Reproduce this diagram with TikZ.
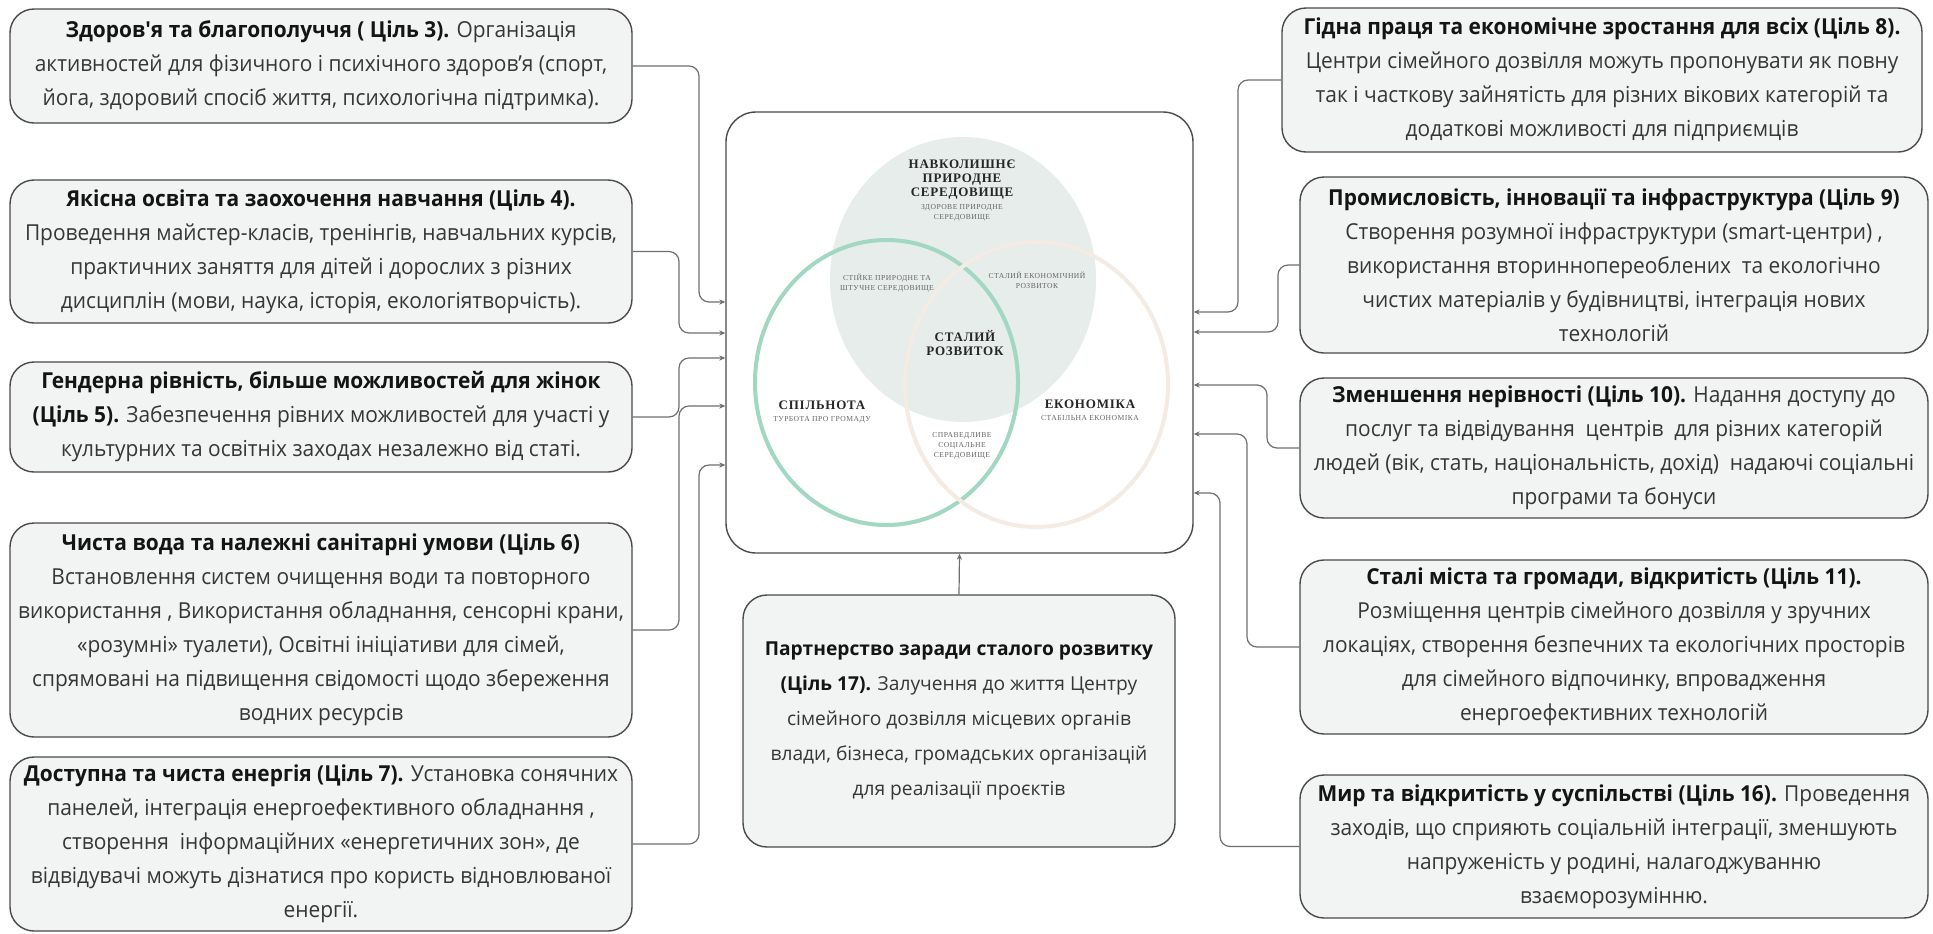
\documentclass[tikz,border=0pt]{standalone}
\usepackage{fontspec}
\setmainfont{Open Sans}
\newfontfamily\goalfont[FakeStretch=0.95]{Open Sans}
\newfontfamily\vennfont[LetterSpace=6]{Liberation Serif}
\usetikzlibrary{arrows.meta}

\definecolor{boxfill}{HTML}{F2F3F3}
\definecolor{boxline}{HTML}{4A4A4A}
\definecolor{linkgray}{HTML}{6E6E6E}
\definecolor{textgray}{HTML}{363636}
\definecolor{envfill}{HTML}{E6EDEA}
\definecolor{commgreen}{HTML}{A2D7C2}
\definecolor{econbeige}{HTML}{F3EBE4}

\newcommand\goaltitle[1]{\textbf{\color{black!92}#1}}

\tikzset{
  goal/.style={draw=boxline, fill=boxfill, line width=0.7pt, rounded corners=12pt,
    align=center, inner sep=0pt, text=textgray, font=\goalfont\fontsize{11}{17}\selectfont},
  partner/.style={goal, font=\fontsize{9.6}{17.5}\selectfont},
  link/.style={draw=linkgray, line width=0.6pt, rounded corners=5pt,
    -{Stealth[length=3pt,width=2.6pt]}},
  vennbig/.style={font=\vennfont\bfseries\fontsize{6.5}{7}\selectfont, align=center, text=black!85},
  vennsmall/.style={font=\vennfont\fontsize{3.8}{5}\selectfont, align=center, text=black!60}
}

\begin{document}
\begin{tikzpicture}[x=0.5pt, y=-0.5pt]
  \useasboundingbox (0,0) rectangle (1933,933);

  % centre frame with the Venn diagram
  \node[draw=boxline, fill=white, line width=0.7pt, rounded corners=15pt,
    minimum width=233.5pt, minimum height=220.5pt] (cadre) at (959.5,332.5) {};
  \fill[envfill] (963,279.5) ellipse [x radius=66.5pt, y radius=71.25pt];
  \draw[commgreen, line width=2pt] (886.5,382.5) ellipse [x radius=65.75pt, y radius=71.25pt];
  \draw[econbeige, line width=2pt] (1036.5,384.5) ellipse [x radius=65.75pt, y radius=71.25pt];

  \node[vennbig] (env) at (962,180) {НАВКОЛИШНЄ\\ПРИРОДНЕ\\СЕРЕДОВИЩЕ};
  \node[vennbig] (core) at (965,343) {СТАЛИЙ\\РОЗВИТОК};
  \node[vennbig] (comm) at (822,405) {СПІЛЬНОТА};
  \node[vennbig] (econ) at (1090,404) {ЕКОНОМІКА};
  \foreach \name/\x/\y/\txt in {envsub/962/213/{ЗДОРОВЕ ПРИРОДНЕ\\СЕРЕДОВИЩЕ},
      built/887/283/{СТІЙКЕ ПРИРОДНЕ ТА\\ШТУЧНЕ СЕРЕДОВИЩЕ},
      growth/1037/280/{СТАЛИЙ ЕКОНОМІЧНИЙ\\РОЗВИТОК},
      commsub/822/420/{ТУРБОТА ПРО ГРОМАДУ},
      econsub/1090/418/{СТАБІЛЬНА ЕКОНОМІКА},
      fair/962/446/{СПРАВЕДЛИВЕ\\СОЦІАЛЬНЕ\\СЕРЕДОВИЩЕ}} {
    \node[vennsmall] (\name) at (\x,\y) {\txt};
  }

  % left column
  \node[goal, minimum width=311pt, minimum height=57pt] (g3) at (321,66)
    {\goaltitle{Здоров'я та благополуччя ( Ціль 3).} Організація\\
     активностей для фізичного і психічного здоров’я (спорт,\\
     йога, здоровий спосіб життя, психологічна підтримка).};
  \node[goal, minimum width=311pt, minimum height=71.5pt] (g4) at (321,251.5)
    {\goaltitle{Якісна освіта та заохочення навчання (Ціль 4).}\\
     Проведення майстер-класів, тренінгів, навчальних курсів,\\
     практичних заняття для дітей і дорослих з різних\\
     дисциплін (мови, наука, історія, екологіятворчість).};
  \node[goal, minimum width=311pt, minimum height=55pt] (g5) at (321,417)
    {\goaltitle{Гендерна рівність, більше можливостей для жінок}\\
     \goaltitle{(Ціль 5).} Забезпечення рівних можливостей для участі у\\
     культурних та освітніх заходах незалежно від статі.};
  \node[goal, minimum width=311pt, minimum height=107pt] (g6) at (321,630)
    {\goaltitle{Чиста вода та належні санітарні умови (Ціль 6)}\\
     Встановлення систем очищення води та повторного\\
     використання , Використання обладнання, сенсорні крани,\\
     «розумні» туалети), Освітні ініціативи для сімей,\\
     спрямовані на підвищення свідомості щодо збереження\\
     водних ресурсів};
  \node[goal, minimum width=311pt, minimum height=87pt] (g7) at (321,844)
    {\goaltitle{Доступна та чиста енергія (Ціль 7).} Установка сонячних\\
     панелей, інтеграція енергоефективного обладнання ,\\
     створення \ інформаційних «енергетичних зон», де\\
     відвідувачі можуть дізнатися про користь відновлюваної\\
     енергії.};

  % right column
  \node[goal, minimum width=320pt, minimum height=72pt] (g8) at (1602,80)
    {\goaltitle{Гідна праця та економічне зростання для всіх (Ціль 8).}\\
     Центри сімейного дозвілля можуть пропонувати як повну\\
     так і часткову зайнятість для різних вікових категорій та\\
     додаткові можливості для підприємців};
  \node[goal, minimum width=314pt, minimum height=88pt] (g9) at (1614,265)
    {\goaltitle{Промисловість, інновації та інфраструктура (Ціль 9)}\\
     Створення розумної інфраструктури (smart-центри) ,\\
     використання вториннопереоблених \ та екологічно\\
     чистих матеріалів у будівництві, інтеграція нових\\
     технологій};
  \node[goal, minimum width=314pt, minimum height=70pt] (g10) at (1614,448)
    {\goaltitle{Зменшення нерівності (Ціль 10).} Надання доступу до\\
     послуг та відвідування \ центрів \ для різних категорій\\
     людей (вік, стать, національність, дохід) \ надаючі соціальні\\
     програми та бонуси};
  \node[goal, minimum width=314pt, minimum height=87pt] (g11) at (1614,647)
    {\goaltitle{Сталі міста та громади, відкритість (Ціль 11).}\\
     Розміщення центрів сімейного дозвілля у зручних\\
     локаціях, створення безпечних та екологічних просторів\\
     для сімейного відпочинку, впровадження\\
     енергоефективних технологій};
  \node[goal, minimum width=314pt, minimum height=71.5pt] (g16) at (1614,846.5)
    {\goaltitle{Мир та відкритість у суспільстві (Ціль 16).} Проведення\\
     заходів, що сприяють соціальній інтеграції, зменшують\\
     напруженість у родині, налагоджуванню\\
     взаєморозумінню.};

  % bottom
  \node[partner, minimum width=216pt, minimum height=126pt] (g17) at (959,721)
    {\goaltitle{Партнерство заради сталого розвитку}\\
     \goaltitle{(Ціль 17).} Залучення до життя Центру\\
     сімейного дозвілля місцевих органів\\
     влади, бізнеса, громадських організацій\\
     для реалізації проєктів};

  % connectors
  \foreach \g/\x/\y in {g3/699/302, g4/679/333, g5/679/358, g6/679/406, g7/699/465} {
    \coordinate (k) at (\x,\y);
    \draw[link] (\g.east) -| (k) -- (k -| cadre.west);
  }
  \foreach \g/\x/\y in {g8/1238/312, g9/1278/332, g10/1267/385, g11/1247/434, g16/1220/493} {
    \coordinate (k) at (\x,\y);
    \draw[link] (\g.west) -| (k) -- (k -| cadre.east);
  }
  \draw[link] (g17.north) -- (cadre.south);
\end{tikzpicture}
\end{document}
